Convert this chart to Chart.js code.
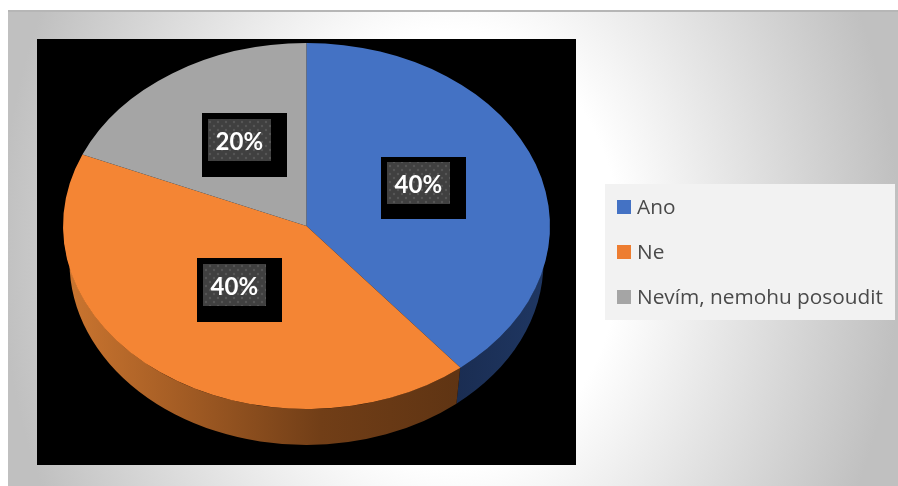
<!DOCTYPE html>
<html>
<head>
<meta charset="utf-8">
<style>
html,body{margin:0;padding:0;background:#fff;width:898px;height:486px;overflow:hidden}
#panel{position:absolute;left:8px;top:10px;width:890px;height:476px;box-sizing:border-box;border-top:2px solid #b6b6b6;
background:radial-gradient(ellipse 450px 570px at 442px 236px,#fff 0%,#fff 38%,#c0c0c0 100%);}
#plate{position:absolute;left:37px;top:39px;width:539px;height:426px;background:#000}
#wrap{position:absolute;left:0;top:0;width:898px;height:486px}
</style>
<script src="https://cdn.jsdelivr.net/npm/chart.js@4"></script>
</head>
<body>
<div id="panel"></div>
<div id="plate"></div>
<div id="wrap"><canvas id="c" width="898" height="486"></canvas></div>
<script>
const categories = ["Ano", "Ne", "Nevím, nemohu posoudit"];
const shares = [39.1, 42.3, 18.6];
const shownLabels = ["40%", "40%", "20%"];
const sliceColors = ["#4472c4", "#f48534", "#a5a5a5"];
const legendColors = ["#4472c4", "#ed7d31", "#a5a5a5"];

const TILT = 0.753, CY = 226, DEPTH = 36, BOTTOM_RX = 237;

const sideWalls = {
  id: "sideWalls",
  beforeDatasetDraw(chart) {
    const ctx = chart.ctx;
    const arcs = chart.getDatasetMeta(0).data;
    const paint = [
      (g) => { g.addColorStop(0, "#1a2d52"); g.addColorStop(1, "#1f3763"); },
      (g) => { g.addColorStop(0, "#cc7630"); g.addColorStop(.3, "#a35c24"); g.addColorStop(.65, "#713e17"); g.addColorStop(1, "#5f3413"); },
      (g) => { g.addColorStop(0, "#666"); g.addColorStop(1, "#666"); }
    ];
    const x0 = arcs[0].x, R = arcs[0].outerRadius, ry = R * TILT;
    arcs.forEach((arc, i) => {
      let s = Math.max(arc.startAngle, 0), e = Math.min(arc.endAngle, Math.PI);
      if (e <= s) return;
      const g = i === 0 ? ctx.createLinearGradient(457, 0, 550, 0) : ctx.createLinearGradient(63, 0, 460, 0);
      paint[i](g);
      ctx.save();
      ctx.beginPath();
      ctx.ellipse(x0, CY, R, ry, 0, s, e);
      ctx.ellipse(x0, CY + DEPTH, BOTTOM_RX, ry, 0, e, s, true);
      ctx.closePath();
      ctx.fillStyle = g;
      ctx.fill();
      ctx.restore();
    });
    ctx.save();
    ctx.translate(x0, CY);
    ctx.scale(1.002, TILT);
    ctx.translate(-x0, -arcs[0].y);
  },
  afterDatasetDraw(chart) { chart.ctx.restore(); }
};

function dotPattern(ctx) {
  const t = document.createElement("canvas");
  t.width = 8; t.height = 8;
  const c = t.getContext("2d");
  c.fillStyle = "#404040"; c.fillRect(0, 0, 8, 8);
  c.fillStyle = "#575757";
  c.beginPath(); c.arc(2, 2, 1.2, 0, 7); c.fill();
  c.beginPath(); c.arc(6, 6, 1.2, 0, 7); c.fill();
  return ctx.createPattern(t, "repeat");
}

const boxPlace = [[381, 157, 62, 5], [197, 258, 64, 6], [202, 113, 64, 6]];
const valueBoxes = {
  id: "valueBoxes",
  afterDatasetsDraw(chart) {
    const ctx = chart.ctx, fill = dotPattern(ctx);
    ctx.save();
    shownLabels.forEach((txt, i) => {
      const [x, y, h, inset] = boxPlace[i];
      ctx.fillStyle = "#000"; ctx.fillRect(x, y, 85, h);
      ctx.fillStyle = fill; ctx.fillRect(x + 6, y + inset, 63, 42);
      ctx.fillStyle = "#fff";
      ctx.font = '700 24px "Lato"';
      ctx.textAlign = "center"; ctx.textBaseline = "middle";
      ctx.fillText(txt, x + 37.3, y + inset + 23);
    });
    ctx.restore();
  }
};

const sideLegend = {
  id: "sideLegend",
  afterDraw(chart) {
    const ctx = chart.ctx;
    ctx.save();
    ctx.fillStyle = "#f2f2f2"; ctx.fillRect(605, 184, 290, 136);
    ctx.font = '20.8px "Open Sans"';
    ctx.textAlign = "left"; ctx.textBaseline = "middle";
    chart.data.labels.forEach((t, i) => {
      const y = 200 + i * 45;
      ctx.fillStyle = legendColors[i]; ctx.fillRect(617, y, 14, 14);
      ctx.fillStyle = "#4a4a4a"; ctx.fillText(t, 637, y + 8);
    });
    ctx.restore();
  }
};

new Chart(document.getElementById("c"), {
  type: "pie",
  data: { labels: categories, datasets: [{ data: shares, backgroundColor: sliceColors, borderWidth: 0 }] },
  options: {
    responsive: false,
    animation: false,
    devicePixelRatio: 1,
    layout: { padding: { left: 63.5, right: 348.5, top: 0, bottom: 0 } },
    plugins: { legend: { display: false }, tooltip: { enabled: false } }
  },
  plugins: [sideWalls, valueBoxes, sideLegend]
});
</script>
</body>
</html>
